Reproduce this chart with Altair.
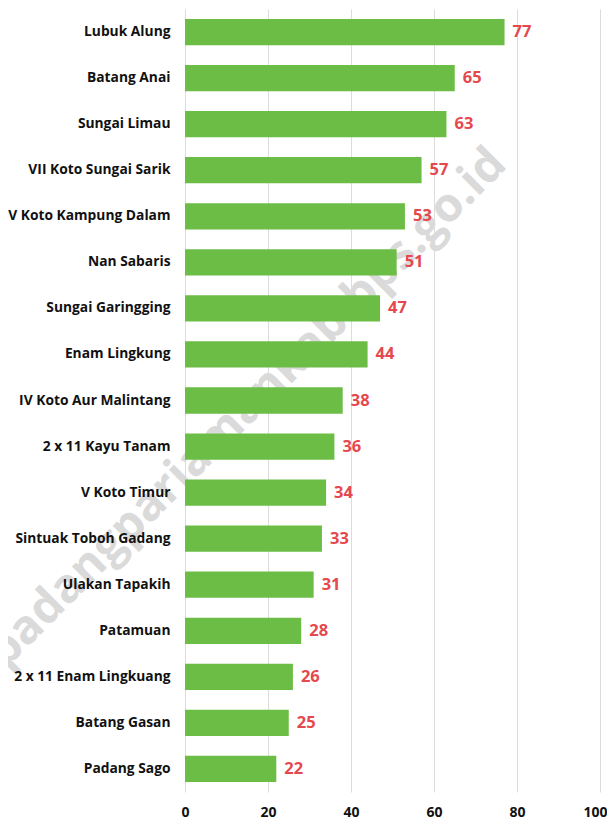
import altair as alt
import pandas as pd

kecamatan = [
    "Lubuk Alung", "Batang Anai", "Sungai Limau", "VII Koto Sungai Sarik",
    "V Koto Kampung Dalam", "Nan Sabaris", "Sungai Garingging", "Enam Lingkung",
    "IV Koto Aur Malintang", "2 x 11 Kayu Tanam", "V Koto Timur",
    "Sintuak Toboh Gadang", "Ulakan Tapakih", "Patamuan", "2 x 11 Enam Lingkuang",
    "Batang  Gasan", "Padang Sago",
]
nilai = [77, 65, 63, 57, 53, 51, 47, 44, 38, 36, 34, 33, 31, 28, 26, 25, 22]
x_ticks = [0, 20, 40, 60, 80, 100]
watermark = ["padangpariamankab.bps.go.id"]

df = pd.DataFrame({"kecamatan": kecamatan, "nilai": nilai})
wm = pd.DataFrame({"t": watermark})

FONT = "Open Sans"

y_enc = alt.Y(
    "kecamatan:N",
    sort=kecamatan,
    title=None,
    scale=alt.Scale(paddingInner=0.43, paddingOuter=0.215),
    axis=alt.Axis(
        domain=False, ticks=False, labelFont=FONT, labelFontWeight="bold",
        labelFontSize=13.8, labelColor="#111111", labelPadding=15, grid=False,
        zindex=1,
    ),
)
x_enc = alt.X(
    "nilai:Q",
    title=None,
    scale=alt.Scale(domain=[0, 100], nice=False),
    axis=alt.Axis(
        values=x_ticks, domain=False, ticks=False, grid=True,
        gridColor="#dcdcdc", gridWidth=1, labelFont=FONT, labelFontWeight="bold",
        labelFontSize=14, labelColor="#111111", labelPadding=13,
        labelFlush=False,
        labelAlign={"condition": {"test": "datum.value == 100", "value": "right"}, "value": "center"},
        labelOffset={"condition": {"test": "datum.value == 100", "value": 7}, "value": 0},
    ),
)

wm_layer = alt.Chart(wm).mark_text(
    font=FONT, fontWeight="bold", fontSize=47, color="#dadada",
    angle=315, align="center", baseline="middle",
).encode(text="t:N", x=alt.value(62), y=alt.value(399))

bars = alt.Chart(df).mark_bar(color="#6cbd45").encode(x=x_enc, y=y_enc)

labels = alt.Chart(df).mark_text(
    align="left", baseline="middle", dx=8, font=FONT, fontWeight="bold",
    fontSize=16.5, color="#e5484d",
).encode(x="nilai:Q", y=alt.Y("kecamatan:N", sort=kecamatan), text="nilai:Q")

chart = alt.layer(wm_layer, bars, labels).properties(
    width=415, height=783,
    autosize=alt.AutoSizeParams(type="none"),
    padding={"left": 177, "top": 1, "right": 7, "bottom": 28},
).configure_view(stroke=None)

chart.save("out.html", embed_options={"renderer": "svg", "actions": False})
